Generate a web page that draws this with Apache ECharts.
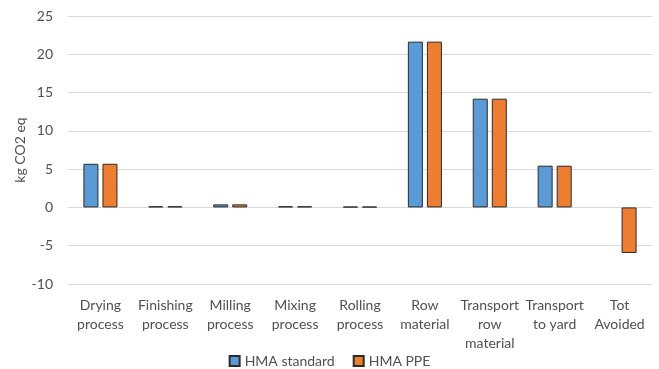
<!DOCTYPE html>
<html>
<head>
<meta charset="utf-8">
<script src="https://cdn.jsdelivr.net/npm/echarts@6/dist/echarts.min.js"></script>
<style>
  html, body { margin: 0; padding: 0; background: #fff; }
  #chart { width: 659px; height: 369px; }
</style>
</head>
<body>
<div id="chart"></div>
<script>
// Emission contributions per process step (kg CO2 eq)
const categories = [
  'Drying\nprocess', 'Finishing\nprocess', 'Milling\nprocess', 'Mixing\nprocess',
  'Rolling\nprocess', 'Row\nmaterial', 'Transport\nrow\nmaterial', 'Transport\nto yard', 'Tot\nAvoided'
];
const hmaStandard = [5.7, 0.15, 0.4, 0.15, 0.1, 21.65, 14.2, 5.45, null];
const hmaPPE      = [5.7, 0.15, 0.4, 0.15, 0.1, 21.65, 14.2, 5.45, -5.95];
const yTicks = { min: -10, max: 25, interval: 5 };

const font = 'Lato, "Open Sans", sans-serif';
const textColor = '#505050';

const chart = echarts.init(document.getElementById('chart'), null, { renderer: 'canvas' });
chart.setOption({
  animation: false,
  textStyle: { fontFamily: font },
  grid: { left: 68, right: 7, top: 16, bottom: 85 },
  legend: {
    bottom: 1,
    left: 'center',
    padding: 0,
    itemWidth: 10,
    itemHeight: 10,
    itemGap: 18,
    icon: 'rect',
    textStyle: { fontFamily: font, fontSize: 14, color: textColor },
    data: ['HMA standard', 'HMA PPE']
  },
  xAxis: {
    type: 'category',
    data: categories,
    axisLine: { show: false },
    axisTick: { show: false },
    axisLabel: {
      interval: 0,
      margin: 12,
      fontFamily: font,
      fontSize: 14,
      lineHeight: 19,
      color: textColor
    }
  },
  yAxis: {
    type: 'value',
    min: yTicks.min,
    max: yTicks.max,
    interval: yTicks.interval,
    name: 'kg CO2 eq',
    nameLocation: 'middle',
    nameRotate: 90,
    nameGap: 41,
    nameMoveOverlap: false,
    nameTextStyle: { fontFamily: font, fontSize: 14, color: textColor },
    axisLine: { show: false },
    axisTick: { show: false },
    axisLabel: { fontFamily: font, fontSize: 14, color: textColor, margin: 15 },
    splitLine: { lineStyle: { color: '#d9d9d9', width: 1 } }
  },
  series: [
    {
      name: 'HMA standard',
      type: 'bar',
      data: hmaStandard,
      barWidth: 15,
      barGap: '27%',
      itemStyle: { color: '#5B9BD5', borderColor: '#2b2b2b', borderWidth: 1 }
    },
    {
      name: 'HMA PPE',
      type: 'bar',
      data: hmaPPE,
      barWidth: 15,
      barGap: '27%',
      itemStyle: { color: '#ED7D31', borderColor: '#2b2b2b', borderWidth: 1 }
    }
  ]
});
</script>
</body>
</html>
